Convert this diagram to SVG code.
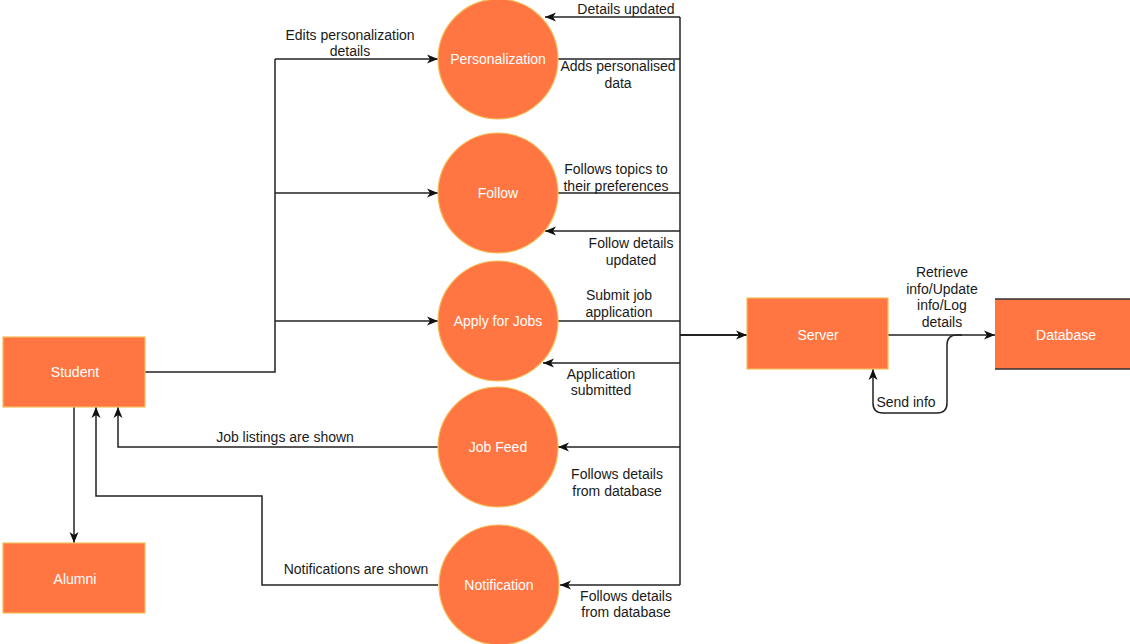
<svg xmlns="http://www.w3.org/2000/svg" width="1130" height="644" viewBox="0 0 1130 644">
<defs>
<marker id="arr" markerUnits="userSpaceOnUse" markerWidth="12" markerHeight="10" refX="11" refY="5" orient="auto">
<path d="M0,0.5 L11,5 L0,9.5 L3,5 z" fill="#111"/>
</marker>
<style>
.node{fill:#FF7642;stroke:#F2BE58;stroke-width:1.2}
.nl{font-family:"Liberation Sans",Arial,sans-serif;font-size:14px;fill:#ffffff;text-anchor:middle}
.el{font-family:"Liberation Sans",Arial,sans-serif;font-size:14px;fill:#1a1a1a;text-anchor:middle}
.c{fill:none;stroke:#222;stroke-width:1.5}
.ca{fill:none;stroke:#222;stroke-width:1.5;marker-end:url(#arr)}
</style>
</defs>
<rect width="1130" height="644" fill="#ffffff"/>

<g id="connectors">
<!-- Student to processes -->
<path class="c" d="M145,372 H275 V59"/>
<path class="ca" d="M275,59 H438"/>
<path class="ca" d="M275,193 H438"/>
<path class="ca" d="M275,321 H438"/>
<!-- Student to Alumni -->
<path class="ca" d="M74,407 V543"/>
<!-- Job feed to Student -->
<path class="ca" d="M438,447 H118 V407"/>
<!-- Notification to Student -->
<path class="ca" d="M438,585 H262 V496 H96 V407"/>
<!-- bus -->
<path class="c" d="M680,17 V585"/>
<path class="ca" d="M680,17 H545"/>
<path class="c" d="M558,59 H680"/>
<path class="c" d="M558,193 H680"/>
<path class="ca" d="M680,231 H545"/>
<path class="c" d="M558,321 H680"/>
<path class="ca" d="M680,363 H543"/>
<path class="ca" d="M680,447 H558"/>
<path class="ca" d="M680,585 H560"/>
<path class="ca" d="M680,335 H747" style="stroke-width:2"/>
<!-- Server to Database -->
<path class="ca" d="M888,335 H995"/>
<path class="ca" d="M962,335 H957 Q947,335 947,345 V403 Q947,413 937,413 H883 Q873,413 873,403 V369"/>
</g>

<g id="edge-labels">
<text class="el" x="350" y="40">Edits personalization</text>
<text class="el" x="350" y="56">details</text>
<text class="el" x="626" y="14">Details updated</text>
<text class="el" x="618" y="71">Adds personalised</text>
<text class="el" x="618" y="88">data</text>
<text class="el" x="616" y="174">Follows topics to</text>
<text class="el" x="616" y="191">their preferences</text>
<text class="el" x="631" y="248">Follow details</text>
<text class="el" x="631" y="265">updated</text>
<text class="el" x="619" y="300">Submit job</text>
<text class="el" x="619" y="317">application</text>
<text class="el" x="601" y="379">Application</text>
<text class="el" x="601" y="395">submitted</text>
<text class="el" x="617" y="479">Follows details</text>
<text class="el" x="617" y="496">from database</text>
<text class="el" x="626" y="601">Follows details</text>
<text class="el" x="626" y="617">from database</text>
<text class="el" x="942" y="277">Retrieve</text>
<text class="el" x="942" y="294">info/Update</text>
<text class="el" x="942" y="310">info/Log</text>
<text class="el" x="942" y="327">details</text>
<text class="el" x="906" y="407">Send info</text>
<text class="el" x="285" y="442">Job listings are shown</text>
<text class="el" x="356" y="574">Notifications are shown</text>
</g>

<g id="student">
<rect class="node" x="3" y="337" width="142" height="70"/>
<text class="nl" x="75" y="377">Student</text>
</g>
<g id="alumni">
<rect class="node" x="3" y="543" width="142" height="70"/>
<text class="nl" x="75" y="584">Alumni</text>
</g>
<g id="personalization">
<circle class="node" cx="498" cy="59" r="60"/>
<text class="nl" x="498" y="64">Personalization</text>
</g>
<g id="follow">
<circle class="node" cx="498" cy="193" r="60"/>
<text class="nl" x="498" y="198">Follow</text>
</g>
<g id="apply">
<circle class="node" cx="498" cy="321" r="60"/>
<text class="nl" x="498" y="326">Apply for Jobs</text>
</g>
<g id="jobfeed">
<circle class="node" cx="498" cy="447" r="60"/>
<text class="nl" x="498" y="452">Job Feed</text>
</g>
<g id="notification">
<circle class="node" cx="499" cy="585" r="60"/>
<text class="nl" x="499" y="590">Notification</text>
</g>
<g id="server">
<rect class="node" x="747" y="298" width="141" height="71"/>
<text class="nl" x="818" y="340">Server</text>
</g>
<g id="database">
<rect x="995" y="299" width="140" height="70" fill="#FF7642"/>
<path d="M995,299 H1130 M995,369 H1130" stroke="#333" stroke-width="1.5" fill="none"/>
<text class="nl" x="1066" y="340">Database</text>
</g>
</svg>
